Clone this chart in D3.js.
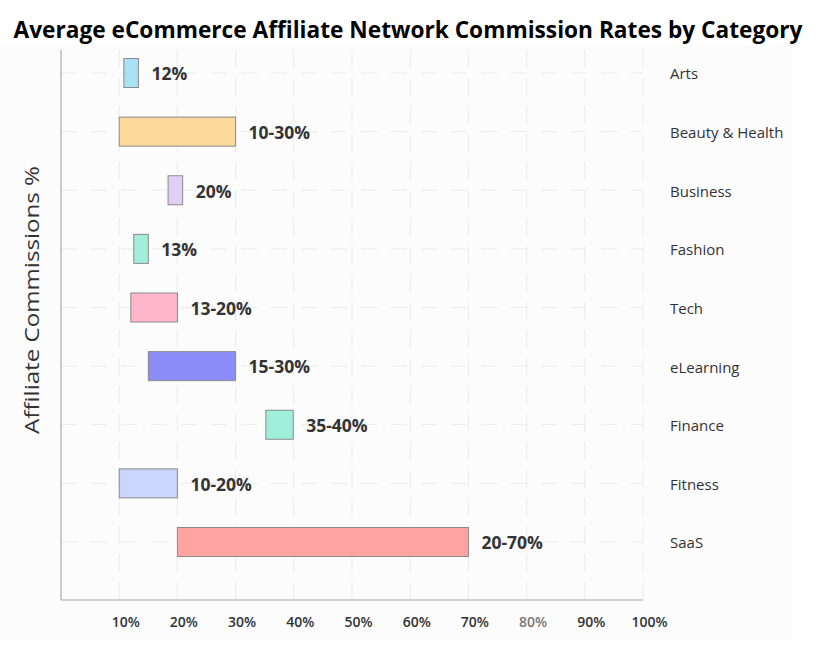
<!DOCTYPE html>
<html>
<head>
<meta charset="utf-8">
<script src="https://cdn.jsdelivr.net/npm/d3@7"></script>
<style>
  body { margin: 0; background: #fff; }
  svg { display: block; }
</style>
</head>
<body>
<div id="chart"></div>
<script>
// Chart data
var categories = ["Arts", "Beauty & Health", "Business", "Fashion", "Tech",
                  "eLearning", "Finance", "Fitness", "SaaS"];
var lowValues  = [10.8, 10, 18.4, 12.5, 12, 15, 35.2, 10, 20];
var highValues = [13.3, 30, 20.9, 15.0, 20, 30, 39.9, 20, 70];
var valueLabels = ["12%", "10-30%", "20%", "13%", "13-20%", "15-30%", "35-40%", "10-20%", "20-70%"];
var barColors = ["#a9e2f5", "#fdd99c", "#e2cff7", "#a3eedb", "#ffb5cc",
                 "#8b8bf9", "#9ff0da", "#cbd5fd", "#ffa3a3"];
var xTicks = [10, 20, 30, 40, 50, 60, 70, 80, 90, 100];

var width = 832, height = 661;

var svg = d3.select("#chart").append("svg")
    .attr("width", width)
    .attr("height", height);

// faint panel behind the plot
svg.append("rect")
    .attr("x", 0).attr("y", 46)
    .attr("width", 792).attr("height", 594)
    .attr("fill", "#fcfcfd");

var x = d3.scaleLinear().domain([0, 100]).range([61, 643]);
var y = d3.scalePoint().domain(categories).range([73, 542]);
var barH = 29;
var plotTop = 50, plotBottom = 600;

// vertical dashed grid
svg.append("g")
    .selectAll("line")
    .data(xTicks)
    .join("line")
    .attr("x1", function(d) { return x(d); })
    .attr("x2", function(d) { return x(d); })
    .attr("y1", plotTop)
    .attr("y2", plotBottom)
    .attr("stroke", "#ebebeb")
    .attr("stroke-dasharray", "18,10");

// horizontal dashed grid at each category
svg.append("g")
    .selectAll("line")
    .data(categories)
    .join("line")
    .attr("x1", x(0))
    .attr("x2", x(100))
    .attr("y1", function(d) { return y(d); })
    .attr("y2", function(d) { return y(d); })
    .attr("stroke", "#ebebeb")
    .attr("stroke-dasharray", "16,14");

// axis lines
svg.append("line")
    .attr("x1", x(0)).attr("x2", x(0))
    .attr("y1", plotTop).attr("y2", plotBottom)
    .attr("stroke", "#aaa").attr("stroke-width", 1.2);
svg.append("line")
    .attr("x1", x(0)).attr("x2", x(100))
    .attr("y1", plotBottom).attr("y2", plotBottom)
    .attr("stroke", "#aaa").attr("stroke-width", 1.2);

// x tick labels (sit a little right of their grid lines)
var xAxis = d3.axisBottom(x)
    .tickValues(xTicks)
    .tickFormat(function(d) { return d + "%"; })
    .tickSize(0)
    .tickPadding(0);
var xg = svg.append("g")
    .attr("transform", "translate(6," + 617 + ")")
    .call(xAxis);
xg.select(".domain").remove();
xg.selectAll("text")
    .attr("dy", "0.71em")
    .attr("font-family", "'Open Sans', sans-serif")
    .attr("font-weight", 600)
    .attr("font-size", 14)
    .attr("fill", function(d) { return d === 80 ? "#777" : "#333"; });

// range bars
var rows = categories.map(function(c, i) {
    return {cat: c, lo: lowValues[i], hi: highValues[i], label: valueLabels[i], color: barColors[i]};
});

svg.append("g")
    .selectAll("rect")
    .data(rows)
    .join("rect")
    .attr("x", function(d) { return x(d.lo); })
    .attr("y", function(d) { return y(d.cat) - barH / 2; })
    .attr("width", function(d) { return x(d.hi) - x(d.lo); })
    .attr("height", barH)
    .attr("fill", function(d) { return d.color; })
    .attr("stroke", "#8a8a8a")
    .attr("stroke-width", 1);

// value labels
svg.append("g")
    .selectAll("text")
    .data(rows)
    .join("text")
    .attr("x", function(d) { return x(d.hi) + 13; })
    .attr("y", function(d) { return y(d.cat) + 1; })
    .attr("dy", "0.36em")
    .attr("font-family", "'Open Sans', sans-serif")
    .attr("font-weight", "bold")
    .attr("font-size", 17.5)
    .attr("fill", "#333")
    .text(function(d) { return d.label; });

// category labels on the right
svg.append("g")
    .selectAll("text")
    .data(categories)
    .join("text")
    .attr("x", 670)
    .attr("y", function(d) { return y(d) + 1; })
    .attr("dy", "0.36em")
    .attr("font-family", "'Open Sans', sans-serif")
    .attr("font-size", 15)
    .attr("fill", "#333")
    .text(function(d) { return d; });

// y axis title
svg.append("text")
    .attr("transform", "translate(39,300) rotate(-90)")
    .attr("text-anchor", "middle")
    .attr("font-family", "'Open Sans', sans-serif")
    .attr("font-size", 20)
    .attr("textLength", 268)
    .attr("lengthAdjust", "spacingAndGlyphs")
    .attr("fill", "#333")
    .text("Affiliate Commissions %");

// title
svg.append("text")
    .attr("x", 408)
    .attr("y", 38)
    .attr("text-anchor", "middle")
    .attr("font-family", "'Open Sans', sans-serif")
    .attr("font-weight", "bold")
    .attr("font-size", 23)
    .attr("textLength", 789)
    .attr("lengthAdjust", "spacingAndGlyphs")
    .attr("fill", "#000")
    .text("Average eCommerce Affiliate Network Commission Rates by Category");
</script>
</body>
</html>
